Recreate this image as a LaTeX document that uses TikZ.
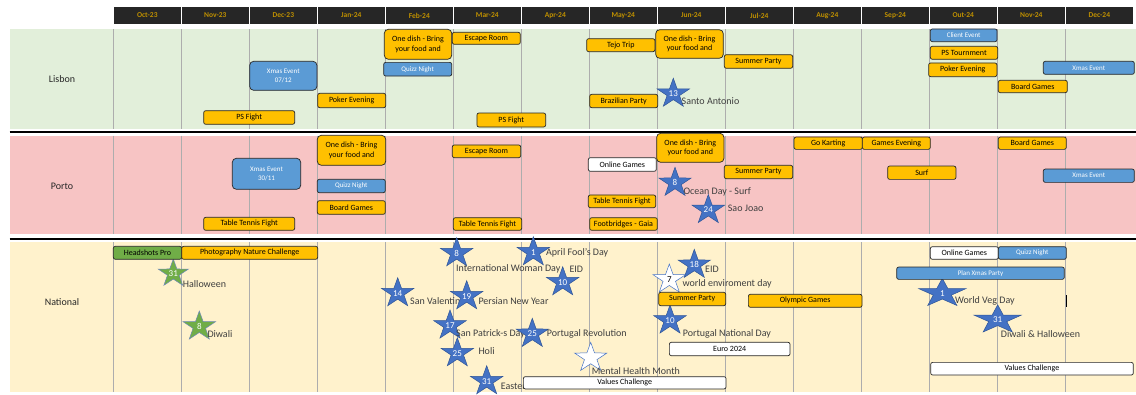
\documentclass[tikz,border=0pt]{standalone}
\usepackage{fontspec}
\setmainfont{Carlito}
\usetikzlibrary{shapes.geometric}

\definecolor{hdrfill}{HTML}{262626}
\definecolor{hdrgold}{HTML}{BF9000}
\definecolor{lisbonbg}{HTML}{E2EFDA}
\definecolor{portobg}{HTML}{F7C4C4}
\definecolor{nationalbg}{HTML}{FFF2CC}
\definecolor{gridgray}{HTML}{ADADAD}
\definecolor{evorange}{HTML}{FFC000}
\definecolor{evblue}{HTML}{5B9BD5}
\definecolor{evgreen}{HTML}{70AD47}
\definecolor{evedge}{HTML}{262626}
\definecolor{starblue}{HTML}{4472C4}
\definecolor{staredge}{HTML}{2F5597}
\definecolor{daygray}{HTML}{3F3F3F}

\begin{document}
\begin{tikzpicture}[x=1pt, y=-1pt,
    month/.style={fill=hdrfill, draw=white, line width=1pt, text=hdrgold, font=\bfseries\fontsize{7.5}{9}\selectfont, minimum width=68pt, minimum height=18pt, inner sep=0pt},
    ev/.style 2 args={draw=evedge, line width=0.7pt, rounded corners=2pt, inner sep=0pt, align=center, minimum width=#1pt, minimum height=#2pt, font=\fontsize{8}{9.5}\selectfont},
    orng/.style 2 args={ev={#1}{#2}, fill=evorange},
    blu/.style 2 args={ev={#1}{#2}, fill=evblue, text=white, font=\fontsize{7}{9}\selectfont},
    wht/.style 2 args={ev={#1}{#2}, fill=white},
    grn/.style 2 args={ev={#1}{#2}, fill=evgreen},
    bstar/.style={star, star points=5, star point ratio=2.6, minimum size=31pt, inner sep=0pt, xscale=1.1, transform shape, fill=starblue, draw=staredge, line width=0.5pt},
    gstar/.style={bstar, fill=evgreen, draw=staredge!70},
    wstar/.style={bstar, fill=white, draw=starblue},
    num/.style={text=white, font=\fontsize{9}{10}\selectfont, inner sep=0pt},
    day/.style={anchor=west, inner sep=0pt, text=daygray, font=\fontsize{10}{12}\selectfont},
    place/.style={font=\fontsize{10}{12}\selectfont, text=black!85},
    grid/.style={gridgray, line width=0.8pt}
]
\useasboundingbox (0,0) rectangle (1136,394);

% month header
\foreach \m [count=\i from 0] in {Oct-23,Nov-23,Dec-23,Jan-24,Feb-24,Mar-24,Apr-24,May-24,Jun-24,Jul-24,Aug-24,Sep-24,Out-24,Nov-24,Dec-24}
    \node[month] (mon\i) at (147.3+68*\i,15.5) {\m};

% bands
\fill[lisbonbg] (9.7,29) rectangle (1136,129);
\fill[portobg] (9.7,135.7) rectangle (1136,234.3);
\fill[nationalbg] (9.7,242.3) rectangle (1136,391.7);
\foreach \k in {0,...,14} {
    \draw[grid] (113.3+68*\k,29) -- (113.3+68*\k,129);
    \draw[grid] (113.3+68*\k,135.7) -- (113.3+68*\k,234.3);
    \draw[grid] (113.3+68*\k,242.3) -- (113.3+68*\k,391.7);
}
\draw[line width=1.8pt] (9.7,132) -- (1136,132);
\draw[line width=1.8pt] (9.7,238.6) -- (1136,238.6);

\node[place] (lisbon) at (62,79) {Lisbon};
\node[place] (porto) at (62,186) {Porto};
\node[place] (national) at (62,302) {National};

% Lisbon
\node[orng={91}{13.6}] (lpsfight) at (249.2,117.5) {PS Fight};
\node[blu={67.3}{29}, rounded corners=4pt] (lxmas) at (283.3,75.8) {Xmas Event\\07/12};
\node[orng={68}{14.4}] (lpoker) at (351.7,100.5) {Poker Evening};
\node[orng={67.4}{30}, rounded corners=4pt] (ldishfeb) at (418,44.3) {One dish - Bring\\your food and};
\node[blu={68}{13.7}] (lquiz) at (417.7,69.2) {Quizz Night};
\node[orng={68}{12}] (lescape) at (486.3,38.3) {Escape Room};
\node[orng={68.7}{14}] (lpsfight2) at (511.3,120) {PS Fight};
\node[orng={68.3}{13}] (ltejo) at (620.8,45.2) {Tejo Trip};
\node[orng={68}{13.4}] (lbrazil) at (623.7,101) {Brazilian Party};
\node[orng={67.6}{28.6}, rounded corners=4pt] (ldishjun) at (689.5,44) {One dish - Bring\\your food and};
\node[orng={68.4}{13.6}] (lsummer) at (758.5,61.5) {Summer Party};
\node[blu={66.7}{12.7}] (lclient) at (963.7,35.3) {Client Event};
\node[orng={67.4}{13}] (lpstour) at (964,52.8) {PS Tournment};
\node[orng={68.3}{13.7}] (lpoker2) at (962.8,69.8) {Poker Evening};
\node[blu={91}{13}] (lxmas2) at (1088.8,67.8) {Xmas Event};
\node[orng={69}{12.4}] (lboard) at (1032.8,86.5) {Board Games};
\node[bstar] (l13) at (673.3,93.7) {};
\node[num] (l13n) at (l13) {13};
\node[day] (santo) at (681.5,101) {Santo Antonio};

% Porto
\node[blu={68.4}{31}, rounded corners=4pt] (pxmas) at (266.5,173.8) {Xmas Event\\30/11};
\node[orng={91}{13}] (ptt) at (249.2,223.8) {Table Tennis Fight};
\node[orng={68.4}{30}, rounded corners=4pt] (pdishjan) at (351.5,150.3) {One dish - Bring\\your food and};
\node[blu={68}{13.4}] (pquiz) at (351.3,186) {Quizz Night};
\node[orng={68}{13.6}] (pboard) at (351.3,207.5) {Board Games};
\node[orng={68.4}{12.7}] (pescape) at (486.5,151.3) {Escape Room};
\node[orng={68.4}{12.6}] (ptt2) at (487.5,224) {Table Tennis Fight};
\node[wht={68}{13.6}] (ponline) at (622.3,164.5) {Online Games};
\node[orng={67.4}{12.7}] (ptt3) at (622,201.3) {Table Tennis Fight};
\node[orng={67.6}{12.6}] (pfoot) at (623.5,224) {Footbridges - Gaia};
\node[orng={67.3}{29}, rounded corners=4pt] (pdishjun) at (690.3,147.8) {One dish - Bring\\your food and};
\node[orng={68.4}{13.4}] (psummer) at (758.5,172) {Summer Party};
\node[orng={68.3}{12.3}] (pkart) at (828.2,143.2) {Go Karting};
\node[orng={68}{12.3}] (pgames) at (896.3,143.2) {Games Evening};
\node[orng={68}{12.3}] (pboard2) at (1032.3,143.2) {Board Games};
\node[orng={68.3}{13.3}] (psurf) at (921.8,172.7) {Surf};
\node[blu={91}{13.3}] (pxmas2) at (1088.8,175.7) {Xmas Event};
\node[bstar] (p8) at (675,182.8) {};
\node[num] (p8n) at (p8) {8};
\node[day] (ocean) at (683.3,192.3) {Ocean Day - Surf};
\node[bstar] (p24) at (708.3,210) {};
\node[num] (p24n) at (p24) {24};
\node[day] (saojoao) at (727.7,208.7) {Sao Joao};

% National
\node[gstar, minimum size=29pt] (n31g) at (173.3,273.5) {};
\node[num] (n31gn) at (n31g) {31};
\node[day] (halloween) at (182.7,284.3) {Halloween};
\node[gstar] (n8g) at (199.3,326.5) {};
\node[num] (n8gn) at (n8g) {8};
\node[day] (diwali) at (207.3,334.3) {Diwali};
\node[bstar] (n14) at (397.7,293.2) {};
\node[num] (n14n) at (n14) {14};
\node[day] (valentine) at (410,300.7) {San Valentine};
\node[bstar] (n8) at (456.7,253.2) {};
\node[num] (n8n) at (n8) {8};
\node[day] (woman) at (456,269) {International Woman Day};
\node[bstar] (n1) at (533.3,252.2) {};
\node[num] (n1n) at (n1) {1};
\node[day] (fools) at (546,252.7) {April Fool's Day};
\node[bstar] (n10a) at (562.7,282.2) {};
\node[num] (n10an) at (n10a) {10};
\node[day] (eida) at (569.3,269) {EID};
\node[bstar] (n19) at (466.7,296.2) {};
\node[num] (n19n) at (n19) {19};
\node[day] (persian) at (478.3,300.7) {Persian New Year};
\node[bstar] (n17) at (450,325.5) {};
\node[num] (n17n) at (n17) {17};
\node[day] (patrick) at (456,334.3) {San Patrick-s Day};
\node[bstar] (n25a) at (532.3,333.8) {};
\node[num] (n25an) at (n25a) {25};
\node[day] (revolution) at (546.7,334.3) {Portugal Revolution};
\node[bstar] (n25b) at (457.3,353.2) {};
\node[num] (n25bn) at (n25b) {25};
\node[day] (holi) at (478.3,351) {Holi};
\node[wstar] (nmental) at (590.7,357.8) {};
\node[day] (mental) at (591.7,370.7) {Mental Health Month};
\node[bstar] (n31) at (486.7,381.2) {};
\node[num] (n31n) at (n31) {31};
\node[day] (easter) at (500.7,386) {Easter};
\node[wstar] (n7) at (669.3,279.5) {};
\node[num, text=black] (n7n) at (n7) {7};
\node[day] (enviro) at (682.3,284.3) {world enviroment day};
\node[bstar] (n18) at (694.3,264.8) {};
\node[num] (n18n) at (n18) {18};
\node[day] (eidb) at (705,269) {EID};
\node[bstar] (n10b) at (670,320.5) {};
\node[num] (n10bn) at (n10b) {10};
\node[day] (natday) at (682.7,334.3) {Portugal National Day};
\node[bstar, xscale=1.5, minimum size=30pt] (n1r) at (942.3,293.3) {};
\node[num] (n1rn) at (942.3,293.3) {1};
\node[day] (veg) at (955,301) {World Veg Day};
\node[bstar, xscale=1.5, minimum size=30pt] (n31r) at (997.7,319.8) {};
\node[num] (n31rn) at (997.7,319.8) {31};
\node[day] (diwhal) at (1000.7,334.3) {Diwali \& Halloween};

\node[grn={68.4}{13}] (nhead) at (147.5,252.8) {Headshots Pro};
\node[orng={136}{13}] (nphoto) at (249.7,252.8) {Photography Nature Challenge};
\node[wht={68}{12.6}] (nonline) at (964.3,253) {Online Games};
\node[blu={68}{12.6}] (nquiz) at (1032.3,253) {Quizz Night};
\node[blu={167.6}{12.3}] (nplan) at (980.5,273.2) {Plan Xmas Party};
\node[orng={67}{13.4}] (nsummer) at (692.2,299) {Summer Party};
\node[orng={113.7}{13}] (nolymp) at (805.2,300.8) {Olympic Games};
\node[wht={120.7}{13.4}] (neuro) at (729.7,349) {Euro 2024};
\node[wht={202.7}{12.3}] (nvalues) at (624.7,382.8) {Values Challenge};
\node[wht={202.6}{12.7}] (nvalues2) at (1032,368.7) {Values Challenge};
\draw[line width=1pt] (1066.3,295) -- (1066.3,307.3);

\end{tikzpicture}
\end{document}
